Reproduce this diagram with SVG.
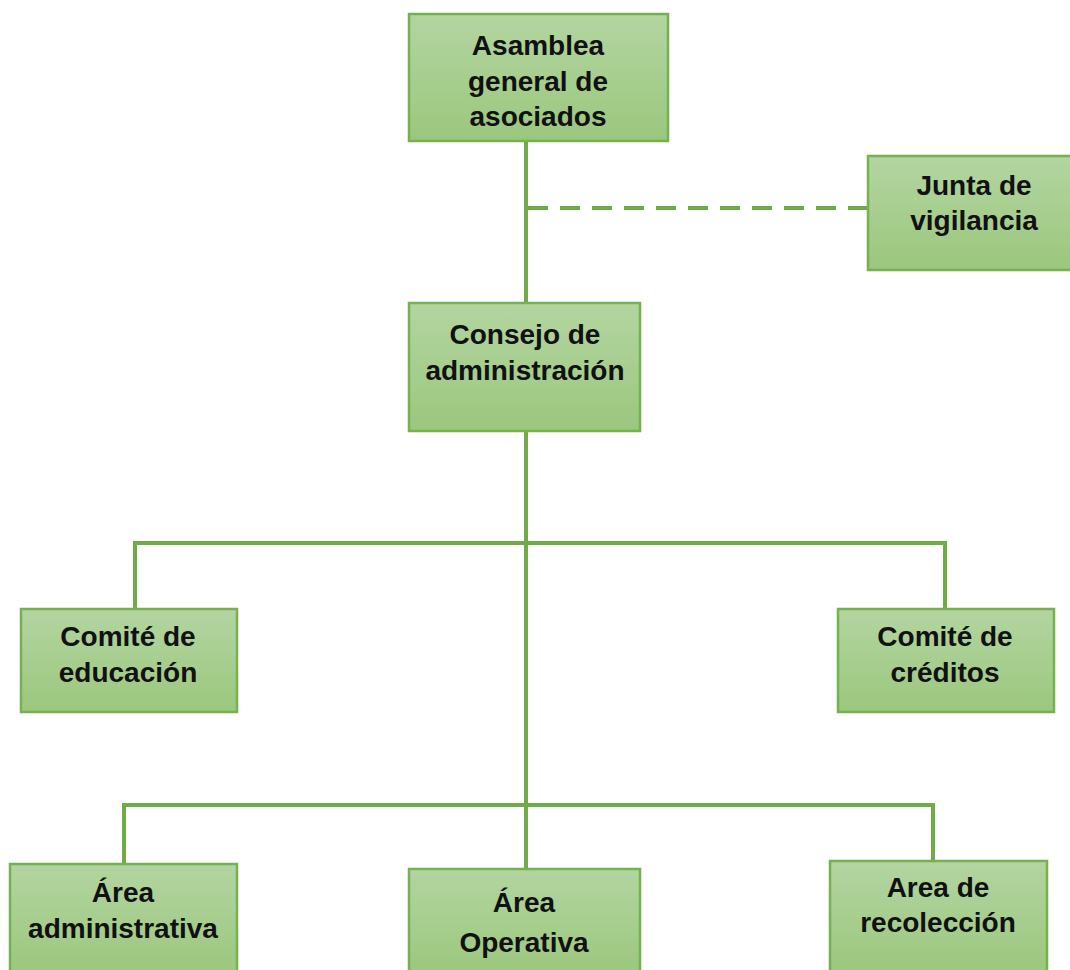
<svg xmlns="http://www.w3.org/2000/svg" width="1070" height="970" viewBox="0 0 1070 970">
<defs>
<linearGradient id="g" x1="0" y1="0" x2="0" y2="1">
<stop offset="0" stop-color="#b3d5a1"/>
<stop offset="1" stop-color="#9bc77d"/>
</linearGradient>
<style>
.box{fill:url(#g);stroke:#74b14f;stroke-width:2.5}
.t{font-family:"Liberation Sans Narrow","Liberation Sans",Arial,sans-serif;font-stretch:condensed;font-weight:bold;font-size:28px;fill:#111;text-anchor:middle}
.c{fill:none;stroke:#6fac47;stroke-width:4}
.d{stroke-dasharray:20 12}
</style>
</defs>
<rect width="1070" height="970" fill="#fff"/>
<g id="connectors">
<path class="c" d="M526 141V303"/>
<path class="c d" d="M528 208H868"/>
<path class="c" d="M526 431V869"/>
<path class="c" d="M135 609V543H945V609"/>
<path class="c" d="M124 864V805H933V861"/>
</g>
<g id="asamblea">
<rect class="box" x="409" y="14" width="259" height="127"/>
<text class="t" x="538" y="55">Asamblea</text>
<text class="t" x="538" y="91">general de</text>
<text class="t" x="538" y="126">asociados</text>
</g>
<g id="junta">
<rect class="box" x="868" y="156" width="204" height="114"/>
<text class="t" x="974" y="195">Junta de</text>
<text class="t" x="974" y="230">vigilancia</text>
</g>
<g id="consejo">
<rect class="box" x="409" y="303" width="231" height="128"/>
<text class="t" x="525" y="344">Consejo de</text>
<text class="t" x="525" y="380">administración</text>
</g>
<g id="educacion">
<rect class="box" x="21" y="609" width="216" height="103"/>
<text class="t" x="128" y="646">Comité de</text>
<text class="t" x="128" y="682">educación</text>
</g>
<g id="creditos">
<rect class="box" x="838" y="609" width="216" height="103"/>
<text class="t" x="945" y="646">Comité de</text>
<text class="t" x="945" y="682">créditos</text>
</g>
<g id="administrativa">
<rect class="box" x="10" y="864" width="227" height="110"/>
<text class="t" x="123" y="902">Área</text>
<text class="t" x="123" y="938">administrativa</text>
</g>
<g id="operativa">
<rect class="box" x="409" y="869" width="231" height="105"/>
<text class="t" x="524" y="912">Área</text>
<text class="t" x="524" y="952">Operativa</text>
</g>
<g id="recoleccion">
<rect class="box" x="830" y="861" width="217" height="113"/>
<text class="t" x="938" y="897">Area de</text>
<text class="t" x="938" y="932">recolección</text>
</g>
</svg>
